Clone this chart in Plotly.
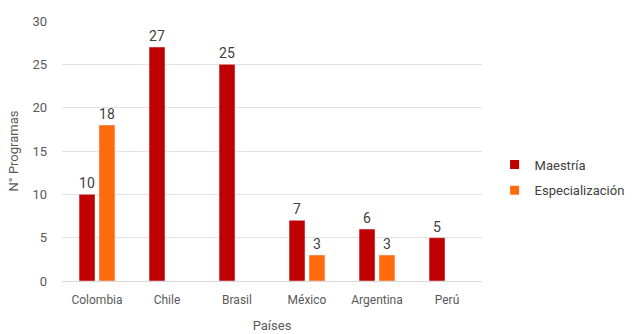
import plotly.graph_objects as go

paises = ["Colombia", "Chile", "Brasil", "México", "Argentina", "Perú"]
maestria = [10, 27, 25, 7, 6, 5]
especializacion = [18, None, None, 3, 3, None]
y_ticks = [0, 5, 10, 15, 20, 25, 30]

colors = {"Maestría": "#C00000", "Especialización": "#FF6A0D"}
font_family = "Roboto, 'Open Sans', sans-serif"

fig = go.Figure()
for name, vals in [("Maestría", maestria), ("Especialización", especializacion)]:
    fig.add_trace(go.Bar(
        x=paises, y=vals, name=name,
        marker_color=colors[name],
        text=[v if v is not None else "" for v in vals], textposition="outside",
        textfont=dict(size=14, color="#404040"),
        cliponaxis=False, showlegend=False,
    ))
# legend entries with small square markers
for name in ["Maestría", "Especialización"]:
    fig.add_trace(go.Scatter(
        x=[None], y=[None], mode="markers", name=name, legendgroup=name,
        marker=dict(symbol="square", size=9, color=colors[name]),
        showlegend=True,
    ))

fig.update_layout(
    width=636, height=334,
    margin=dict(l=62, r=154, t=21, b=53, autoexpand=False),
    paper_bgcolor="white", plot_bgcolor="white",
    font=dict(family=font_family, size=12, color="#595959"),
    barmode="group", bargap=0.43, bargroupgap=0.2,
    showlegend=True,
    legend=dict(x=1.03, y=0.398, xanchor="left", yanchor="middle",
                font=dict(size=13, color="#404040"), itemwidth=30,
                tracegroupgap=6, bgcolor="rgba(0,0,0,0)"),
    xaxis=dict(title=dict(text="Países", standoff=14, font=dict(size=13, color="#595959")),
               showgrid=False, showline=False, ticks="", ticklabelstandoff=10,
               tickfont=dict(size=12, color="#595959")),
    yaxis=dict(title=dict(text="N° Programas", standoff=10, font=dict(size=13, color="#595959")),
               range=[0, 30], tickvals=y_ticks, showgrid=True, gridcolor="#E3E3E3",
               zeroline=True, zerolinecolor="#D9D9D9", zerolinewidth=1,
               showline=False, ticks="", ticklabelstandoff=14,
               tickfont=dict(size=13, color="#595959")),
)

fig.write_html("out.html")
